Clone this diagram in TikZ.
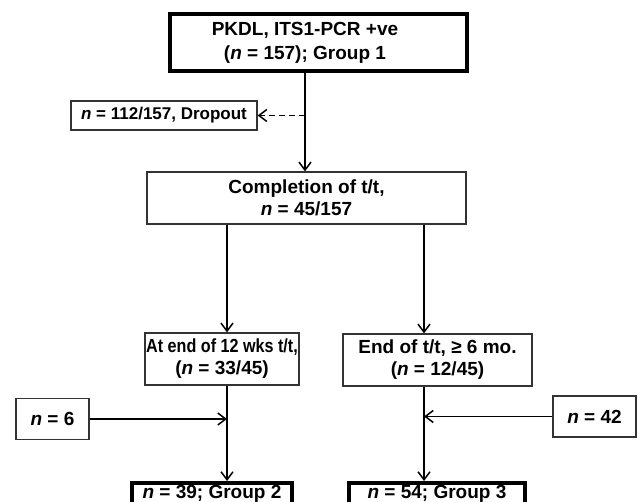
\documentclass[tikz,border=0pt]{standalone}
\usepackage{fontspec}
\setmainfont{Liberation Sans}
\newfontfamily\narrowfamily[FakeStretch=0.85]{Liberation Sans}
\usetikzlibrary{arrows.meta}
\newcommand{\flowfont}{\bfseries\fontsize{19bp}{22bp}\selectfont}
\newcommand{\smallflowfont}{\bfseries\fontsize{17bp}{20bp}\selectfont}
\tikzset{
  thinbox/.style={draw=black!80,line width=1.3bp,inner sep=0pt,align=center,font=\flowfont},
  thickbox/.style={draw=black,line width=4bp,inner sep=0pt,align=center,font=\flowfont},
  flow/.style={line width=1.5bp,-{Straight Barb[length=8bp,width=12bp]}}
}

\begin{document}
\begin{tikzpicture}[line cap=butt,line join=miter,x=1bp,y=-1bp]
		\useasboundingbox (0,0) rectangle (639,502);
		\clip (0,0) rectangle (639,502);
		% columns of the two branches
		\coordinate (lcol) at (227,0);
		\coordinate (rcol) at (424,0);
		% boxes
		\node[thickbox,minimum width=297bp,minimum height=57bp] (pkdl) at (318.5,42.5) {};
		\node[align=center,font=\flowfont,inner sep=0pt] (pkdltext) at (305,43) {PKDL, ITS1-PCR +ve\\[2bp](\textit{n} = 157); Group 1};
		\node[thinbox,font=\smallflowfont,minimum width=186bp,minimum height=29bp] (drop) at (164,115.5) {\textit{n} = 112/157, Dropout};
		\node[thinbox,minimum width=319bp,minimum height=52bp] (compl) at (306.5,198) {Completion of t/t,\\\textit{n} = 45/157};
		\node[thinbox,minimum width=154bp,minimum height=52bp] (lmid) at (222,359) {{\narrowfamily\bfseries At end of 12 wks t/t,}\\(\textit{n} = 33/45)};
		\node[thinbox,minimum width=189bp,minimum height=52bp] (rmid) at (437.5,360) {End of t/t, ≥ 6 mo.\\(\textit{n} = 12/45)};
		\node[thinbox,minimum width=73bp,minimum height=41bp] (nsix) at (52.5,419) {\textit{n} = 6};
		\node[thinbox,minimum width=83bp,minimum height=41bp] (nfortytwo) at (594.5,416.5) {\textit{n} = 42};
		\node[thickbox,minimum width=160bp,minimum height=22bp] (grouptwo) at (212,494) {\textit{n} = 39; Group 2};
		\node[thickbox,minimum width=176bp,minimum height=22bp] (groupthree) at (437,494) {\textit{n} = 54; Group 3};
		% connectors
		\coordinate (dropj) at (pkdltext |- drop);
		\draw[flow] (pkdltext |- pkdl.south) -- (pkdltext |- compl.north);
		\draw[flow,dash pattern=on 6bp off 4bp] (dropj) -- (drop.east);
		\draw[flow] (compl.south -| lcol) -- (lmid.north -| lcol);
		\draw[flow] (compl.south -| rcol) -- (rmid.north -| rcol);
		\draw[flow] (lmid.south -| lcol) -- (grouptwo.north -| lcol);
		\draw[flow] (rmid.south -| rcol) -- (groupthree.north -| rcol);
		\draw[flow] (nsix.east) -- (nsix.east -| lcol);
		\draw[flow] (nfortytwo.west) -- (nfortytwo.west -| rcol);
	\end{tikzpicture}
\end{document}
